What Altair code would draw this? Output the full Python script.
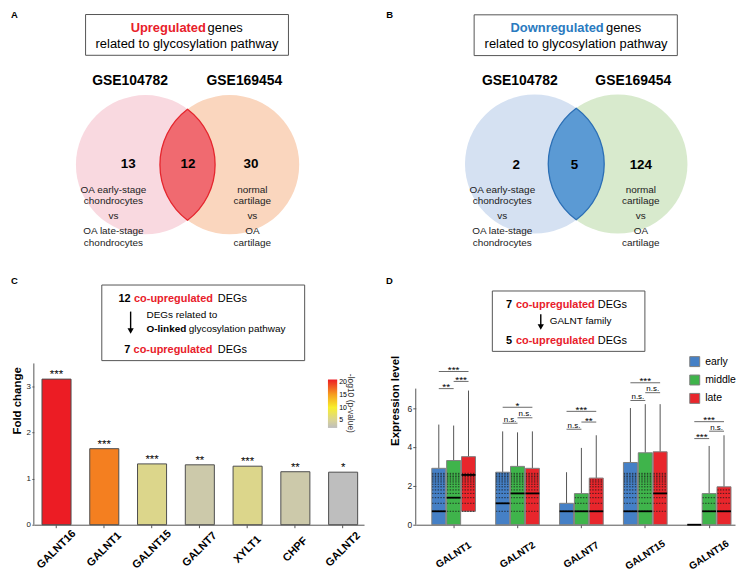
import altair as alt
import pandas as pd

FONT = "Liberation Sans"
RED = "#E8202A"
BLUE = "#2A7AC0"

# ---------------- data ----------------
venn_sets = ["GSE104782", "GSE169454"]
up_counts = [13, 12, 30]          # GSE104782 only, shared, GSE169454 only
down_counts = [2, 5, 124]
left_desc = ["OA early-stage", "chondrocytes", "vs", "OA late-stage", "chondrocytes"]
right_desc = ["normal", "cartilage", "vs", "OA", "cartilage"]

c_genes = ["GALNT16", "GALNT1", "GALNT15", "GALNT7", "XYLT1", "CHPF", "GALNT2"]
c_fold_change = [3.16, 1.65, 1.32, 1.30, 1.27, 1.15, 1.14]
c_neglog10_p = [21, 16.5, 5.5, 3.5, 5.5, 3.5, 2]
c_sig = ["***", "***", "***", "**", "***", "**", "*"]

d_genes = ["GALNT1", "GALNT2", "GALNT7", "GALNT15", "GALNT16"]
d_stages = ["early", "middle", "late"]
# one value per (gene, stage), gene-major order
d_q1 = [0, 0, 0.69, 0, 0, 0, 0, 0, 0, 0, 0, 0, 0, 0, 0]
d_median = [0.69, 1.39, 2.56, 1.1, 1.61, 1.61, 0.69, 0.69, 0.69, 0.69, 0.69, 1.61, 0, 0.69, 0.69]
d_q3 = [2.9, 3.3, 3.5, 2.7, 3.0, 2.9, 1.1, 1.6, 2.4, 3.2, 3.7, 3.75, 0, 1.6, 1.95]
d_max = [5.15, 5.1, 6.9, 4.8, 4.75, 4.8, 2.7, 3.95, 4.6, 6.0, 6.2, 6.2, 0, 4.05, 4.6]
# expression levels where the cell dots pile up into visible rows
d_dot_levels = [0.69, 1.1, 1.39, 1.61, 1.79, 1.95, 2.08, 2.2, 2.3, 2.4, 2.48, 2.56, 2.64]
# significance brackets per gene: early-middle, middle-late, early-late
d_pairs = [("early", "middle"), ("middle", "late"), ("early", "late")]
d_bracket_y = [7.0, 7.37, 7.88, 5.22, 5.5, 6.04, 4.91, 5.28, 5.83, 6.39, 6.79, 7.3, 4.43, 4.81, 5.3]
d_bracket_label = ["**", "***", "***", "n.s.", "n.s.", "*", "n.s.", "**", "***",
                   "n.s.", "n.s.", "***", "***", "n.s.", "***"]

# ---------------- helpers ----------------
ONE = pd.DataFrame({"k": [0]})


def txt(s, x, y, size=11, bold=False, color="black", align="left", baseline="alphabetic", angle=0):
    return alt.Chart(pd.DataFrame({"t": [s]})).mark_text(
        font=FONT, fontSize=size, fontWeight="bold" if bold else "normal",
        color=color, align=align, baseline=baseline, angle=angle,
    ).encode(text="t:N", x=alt.value(x), y=alt.value(y))


def frame(x1, x2, y1, y2):
    return alt.Chart(ONE).mark_rect(fill="white", stroke="#555555", strokeWidth=1).encode(
        x=alt.value(x1), x2=alt.value(x2), y=alt.value(y1), y2=alt.value(y2))


def arrow(x, y1, y2):
    shaft = alt.Chart(ONE).mark_rule(color="black", strokeWidth=1.4).encode(
        x=alt.value(x), y=alt.value(y1), y2=alt.value(y2 - 4))
    head = alt.Chart(ONE).mark_point(shape="triangle-down", filled=True, color="black",
                                     opacity=1, size=40).encode(
        x=alt.value(x), y=alt.value(y2 - 3))
    return [shaft, head]


def spacer(w, h):
    return alt.Chart(ONE).mark_point(opacity=0).encode(
        x=alt.value(0), y=alt.value(0)).properties(width=w, height=h)


ROW1_H = 265


def venn(counts, colors, lens_fill, lens_stroke, g):
    L = []
    L.append(txt(g["letter"], g["letter_x"], 0, 9.5, True, baseline="top"))
    L.append(frame(*g["frame"]))
    L.append(txt(g["word"], g["word_x"], 22.7, 13, True, g["word_color"]))
    L.append(txt("genes", g["genes_x"], 22.7, 13))
    L.append(txt("related to glycosylation pathway", g["line2_x"], 38.7, 13, align="center"))
    for s, x in zip(venn_sets, g["gse_x"]):
        L.append(txt(s, x, 76, 14, True, align="center"))
    circ_df = pd.DataFrame({"set": venn_sets, "col": colors})
    L.append(alt.Chart(circ_df).mark_point(shape="circle", filled=True, opacity=1,
                                           size=140 ** 2, strokeWidth=0).encode(
        x=alt.X("set:N", scale=alt.Scale(type="point", domain=venn_sets, range=g["cx"], padding=0),
                axis=None),
        y=alt.value(g["cy"]),
        color=alt.Color("col:N", scale=None)))
    rho = g["rho"]
    path = f"M0,-1A{rho:.4f},{rho:.4f} 0 0 0 0,1A{rho:.4f},{rho:.4f} 0 0 0 0,-1Z"
    L.append(alt.Chart(ONE).mark_point(shape=path, filled=True, fill=lens_fill, stroke=lens_stroke,
                                       strokeWidth=1.3, opacity=1, size=(2 * g["h"]) ** 2).encode(
        x=alt.value(g["lx"]), y=alt.value(g["cy"])))
    for c, x in zip(counts, g["num_x"]):
        L.append(txt(str(c), x, g["num_y"], 13.5, True, align="center"))
    ys = [184.7, 196, 210.3, 225.3, 238]
    for s, y in zip(left_desc, ys):
        L.append(txt(s, g["desc_x"][0], y, 10, align="center", color="#222222"))
    for s, y in zip(right_desc, ys):
        L.append(txt(s, g["desc_x"][1], y, 10, align="center", color="#222222"))
    return alt.layer(*L).properties(width=364, height=ROW1_H)


panelA = venn(up_counts, ["#F9D9E0", "#FAD6BE"], "#F06A70", "#E5262E", dict(
    letter="A", letter_x=0, frame=(75, 279, 5, 46), word="Upregulated", word_x=120.3,
    word_color=RED, genes_x=197.7, line2_x=177, gse_x=[119.7, 234.7], cx=[135.3, 219.8],
    cy=156, lx=177.5, h=55.8, rho=1.2545, num_x=[117.8, 178, 241.3], num_y=159.3,
    desc_x=[103, 242.7]))

panelB = venn(down_counts, ["#D5E1F2", "#D8EACD"], "#5B9AD4", "#2C6FB5", dict(
    letter="B", letter_x=13.3, frame=(101.7, 306, 5.3, 46.3), word="Downregulated", word_x=138.3,
    word_color=BLUE, genes_x=234.3, line2_x=204.2, gse_x=[147.7, 261.7], cx=[162.5, 246.2],
    cy=155.3, lx=204.35, h=56.1, rho=1.2478, num_x=[144, 202.7, 269.3], num_y=160.3,
    desc_x=[130, 269.3]))

# ---------------- panel C ----------------
C_YMAX = 250 / 46.33
c_df = pd.DataFrame({"gene": c_genes, "fc": c_fold_change, "p": c_neglog10_p, "sig": c_sig})
xC = alt.X("gene:N", sort=c_genes, title=None,
           scale=alt.Scale(paddingInner=0.392, paddingOuter=0.152, align=0.56),
           axis=alt.Axis(labelAngle=-45, labelAlign="center", labelBaseline="middle",
                         labelPadding=21.5, tickSize=3, labelFontSize=11,
                         labelFontWeight="bold", labelColor="black"))
yC = alt.Y("fc:Q", title="Fold change", scale=alt.Scale(domain=[0, C_YMAX], nice=False),
           axis=alt.Axis(values=[0, 1, 2, 3], domain=False, tickSize=2, labelPadding=1.5,
                         labelFontSize=8, titleFontSize=11.5, titleFontWeight="bold",
                         titlePadding=3))
cC = alt.Color("p:Q",
               scale=alt.Scale(domain=[2, 5, 10, 15, 21],
                               range=["#bebebe", "#d9d395", "#f8ef2c", "#f6a01e", "#ec1c24"],
                               interpolate="rgb"),
               legend=alt.Legend(orient="none", legendX=295.7, legendY=104, direction="vertical",
                                 title=None, labelFontSize=7, labelOffset=2,
                                 gradientLength=48.7, gradientThickness=9.3,
                                 gradientStrokeWidth=0, values=[5, 10, 15, 20], padding=0))

C_layers = [
    txt("C", -23, 0, 9.5, True, baseline="top"),
    frame(68.3, 272.3, 9, 85),
    txt("12", 85, 25.7, 11, True),
    txt("co-upregulated", 100.7, 25.7, 11, True, RED),
    txt("DEGs", 185, 25.7, 11),
    *arrow(97.3, 35.7, 58.3),
    txt("DEGs related to", 113.3, 42.3, 10),
    txt("O-linked", 113.3, 56.7, 10, True),
    txt("glycosylation pathway", 155.7, 56.7, 10),
    txt("7", 91, 77.7, 11, True),
    txt("co-upregulated", 100.3, 77.7, 11, True, RED),
    txt("DEGs", 185, 77.7, 11),
    txt("-log10 (p-value)", 319, 128, 8.5, color="#333333", align="center",
        baseline="middle", angle=90),
    alt.Chart(c_df).mark_bar(stroke="#4d4d4d", strokeWidth=1).encode(x=xC, y=yC, color=cC),
    alt.Chart(c_df).mark_text(font=FONT, fontSize=11.5, dy=-1, baseline="alphabetic",
                              color="black").encode(x=xC, y=yC, text="sig:N"),
    alt.Chart(ONE).mark_rule(color="#555555").encode(
        x=alt.value(0), y=alt.datum(0), y2=alt.datum(3.5)),
]
panelC = alt.layer(*C_layers).properties(width=332, height=250)

# ---------------- panel D ----------------
D_YMAX = 250 / 19.55
rows, dot_rows = [], []
for gi, g in enumerate(d_genes):
    for si, s in enumerate(d_stages):
        k = gi * 3 + si
        rows.append(dict(gene=g, stage=s, q1=d_q1[k], med=d_median[k], q3=d_q3[k], mx=d_max[k]))
        for lv in d_dot_levels:
            if d_q1[k] <= lv <= d_q3[k] - 0.05:
                dot_rows.append(dict(gene=g, stage=s, lv=lv))
d_df = pd.DataFrame(rows)
dot_df = pd.DataFrame(dot_rows)

br_rows, lab_rows = [], []
for gi, g in enumerate(d_genes):
    for pi, (a, b) in enumerate(d_pairs):
        k = gi * 3 + pi
        bid = f"{g}-{pi}"
        br_rows.append(dict(gene=g, stage=a, y=d_bracket_y[k], bid=bid))
        br_rows.append(dict(gene=g, stage=b, y=d_bracket_y[k], bid=bid))
        lab_rows.append(dict(gene=g, stage="early" if pi == 0 else "middle", y=d_bracket_y[k],
                             label=d_bracket_label[k], kind=["em", "ml", "el"][pi]))
br_df = pd.DataFrame(br_rows)
lab_df = pd.DataFrame(lab_rows)

xD = alt.X("gene:N", sort=d_genes, title=None,
           scale=alt.Scale(domain=d_genes, paddingInner=0.316, paddingOuter=0.157, align=0.8),
           axis=alt.Axis(labelAngle=-33, labelAlign="center", labelBaseline="middle",
                         labelPadding=27, tickSize=3, labelFontSize=10,
                         labelFontWeight="bold", labelColor="black"))
oD = alt.XOffset("stage:N", scale=alt.Scale(domain=d_stages, paddingInner=0.06, paddingOuter=0))


def yD(f):
    return alt.Y(f, title="Expression level", scale=alt.Scale(domain=[0, D_YMAX], nice=False),
                 axis=alt.Axis(values=[0, 2, 4, 6], domain=False, tickSize=3, labelPadding=1,
                               labelFontSize=8.5, titleFontSize=11.5, titleFontWeight="bold",
                               titlePadding=6.5))


cD = alt.Color("stage:N", scale=alt.Scale(domain=d_stages, range=["#4580C6", "#3FB44B", "#E8262C"]),
               legend=alt.Legend(orient="none", legendX=275, legendY=80.5, title=None,
                                 symbolType="square", symbolSize=100, symbolStrokeColor="#7f7f7f",
                                 symbolStrokeWidth=1, symbolOpacity=1, labelFontSize=10.5,
                                 labelOffset=5, rowPadding=3.5, padding=0))


def blabel(expr, dx, dy, size):
    return alt.Chart(lab_df).transform_filter(expr).mark_text(
        font=FONT, fontSize=size, dx=dx, dy=dy, baseline="alphabetic", color="black").encode(
        x=xD, xOffset=oD, y=yD("y:Q"), text="label:N")


D_layers = [
    txt("D", -30, 0, 9.5, True, baseline="top"),
    frame(77, 230.4, 15, 75.7),
    txt("7", 90.7, 31.7, 11, True),
    txt("co-upregulated", 100.7, 31.7, 11, True, RED),
    txt("DEGs", 183, 31.7, 11),
    *arrow(125.7, 38.3, 54.3),
    txt("GALNT family", 134.7, 48.3, 10),
    txt("5", 90.7, 68.3, 11, True),
    txt("co-upregulated", 100.7, 68.3, 11, True, RED),
    txt("DEGs", 183, 68.3, 11),
    alt.Chart(d_df).mark_rule(color="#555555", strokeWidth=1).encode(
        x=xD, xOffset=oD, y=yD("q3:Q"), y2="mx:Q"),
    alt.Chart(d_df).mark_bar(stroke="#7f7f7f", strokeWidth=1).encode(
        x=xD, xOffset=oD, y=yD("q1:Q"), y2="q3:Q", color=cD),
    alt.Chart(dot_df).mark_tick(filled=False, thickness=0, size=13, orient="horizontal",
                                color="#1a1a1a", strokeWidth=1, strokeDash=[1.2, 1.6],
                                opacity=0.55).encode(x=xD, xOffset=oD, y=yD("lv:Q")),
    alt.Chart(d_df).mark_tick(color="black", thickness=1.8, size=14, orient="horizontal",
                              opacity=1).encode(x=xD, xOffset=oD, y=yD("med:Q")),
    alt.Chart(br_df).mark_line(color="#444444", strokeWidth=0.8).encode(
        x=xD, xOffset=oD, y=yD("y:Q"), detail="bid:N"),
    blabel("datum.kind != 'el' && datum.label != 'n.s.'", 7.5, 1.5, 10),
    blabel("datum.kind != 'el' && datum.label == 'n.s.'", 7.5, -1.5, 8),
    blabel("datum.kind == 'el' && datum.label != 'n.s.'", 0, 1.5, 10),
    blabel("datum.kind == 'el' && datum.label == 'n.s.'", 0, -1.5, 8),
    alt.Chart(ONE).mark_rule(color="#555555").encode(
        x=alt.value(0), y=alt.datum(0), y2=alt.datum(7)),
]
panelD = alt.layer(*D_layers).properties(width=321, height=250)

# ---------------- assemble ----------------
row1 = alt.hconcat(panelA, panelB, spacing=0, bounds="flush")
row2 = alt.hconcat(spacer(23, 250), panelC, spacer(52, 250), panelD, spacing=0, bounds="flush")
chart = alt.vconcat(row1, row2, spacing=0).properties(padding=0)
chart = chart.configure(font=FONT).configure_view(stroke=None).configure_axis(
    grid=False, labelFont=FONT, titleFont=FONT, domainColor="#555555", tickColor="#555555",
    labelColor="#222222", titleColor="black").configure_legend(
    labelFont=FONT, titleFont=FONT, labelColor="black", titleColor="#333333")

chart.save("out.html", embed_options={"renderer": "svg", "actions": False})
